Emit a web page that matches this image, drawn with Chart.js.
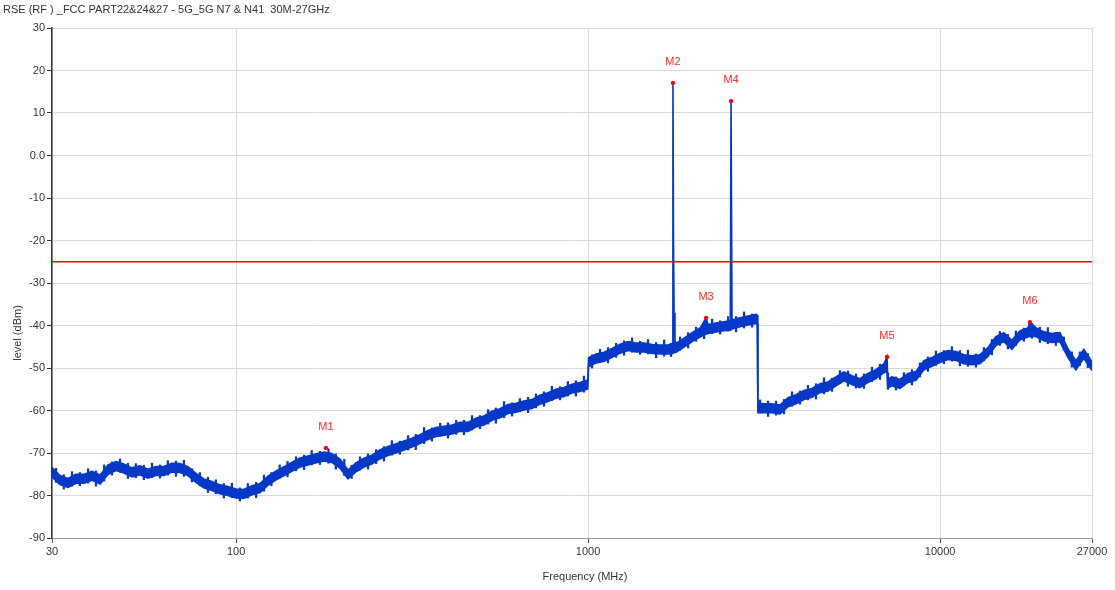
<!DOCTYPE html>
<html>
<head>
<meta charset="utf-8">
<script src="https://cdn.jsdelivr.net/npm/chart.js@4.4.1/dist/chart.umd.min.js"></script>
<style>
  html, body { margin: 0; padding: 0; background: #fff; }
  #wrap { position: relative; width: 1115px; height: 590px; }
  #title { position: absolute; left: 3px; top: 3px; font: 11px "Liberation Sans", Arial, sans-serif; color: #333; white-space: pre; }
</style>
</head>
<body>
<div id="wrap">
  <div id="title">RSE (RF ) _FCC PART22&amp;24&amp;27 - 5G_5G N7 &amp; N41  30M-27GHz</div>
  <canvas id="myChart" width="1115" height="590"></canvas>
</div>
<script>
// frequency points of the trace (MHz)
var freqs = [
  30, 31.6, 33.3, 35.1, 37.0, 39.0, 41.1, 43.3, 45.6, 48.0,
  50.6, 53.3, 56.2, 59.2, 62.4, 65.7, 69.3, 73.0, 76.9, 81.0,
  85.4, 90.0, 94.8, 100, 105, 111, 117, 123, 130, 137,
  144, 152, 160, 169, 178, 187, 197, 208, 219, 231,
  243, 256, 270, 284, 300, 316, 333, 351, 370, 390,
  411, 433, 456, 480, 506, 533, 562, 592, 624, 657,
  693, 730, 769, 810, 854, 900, 948, 998, 1003, 1054,
  1111, 1170, 1233, 1299, 1369, 1442, 1520, 1601, 1687, 1736,
  1742, 1748, 1755, 1765, 1778, 1873, 1974, 2080, 2163, 2191,
  2309, 2433, 2535, 2547, 2563, 2701, 2846, 2999, 3025, 3035,
  3160, 3329, 3508, 3697, 3895, 4104, 4325, 4557, 4801, 5059,
  5331, 5617, 5918, 6236, 6571, 6924, 7063, 7100, 7295, 7687,
  8100, 8535, 8993, 9476, 9985, 10521, 11086, 11681, 12308, 12969,
  13665, 14399, 15172, 15987, 16845, 17749, 17990, 18702, 19706, 20764,
  21879, 23054, 24292, 25596, 27000
];
// top edge of the dense trace core (dBm)
var traceMax = [
  -73.4, -75.3, -76.0, -75.0, -75.0, -74.3, -75.2, -72.8, -72.0, -72.6,
  -73.5, -73.0, -73.8, -73.2, -73.2, -72.4, -72.5, -73.2, -74.8, -76.1,
  -76.7, -77.5, -77.9, -78.5, -78.6, -77.7, -77.2, -75.5, -74.2, -73.2,
  -72.2, -71.2, -70.7, -70.2, -69.8, -70.1, -71.4, -74.0, -72.3, -71.2,
  -70.5, -69.3, -68.5, -67.9, -67.2, -66.5, -65.7, -64.7, -64.0, -63.7,
  -63.4, -62.8, -62.8, -61.8, -61.3, -60.2, -59.6, -58.6, -58.3, -57.8,
  -57.4, -56.4, -55.8, -55.0, -54.6, -53.8, -53.4, -52.8, -47.6, -46.7,
  -46.3, -45.4, -44.4, -43.8, -44.1, -44.1, -44.5, -44.6, -44.6, -44.2,
  17.1, -20.0, -37.0, -43.6, -44.2, -43.0, -41.7, -40.6, -38.2, -39.8,
  -39.4, -39.1, -38.9, 12.8, -38.7, -38.2, -37.8, -37.4, -37.6, -58.3,
  -58.4, -58.4, -58.7, -57.0, -56.3, -55.3, -54.8, -53.7, -53.3, -52.1,
  -50.9, -51.8, -52.5, -51.3, -50.4, -49.0, -47.4, -52.6, -52.1, -52.7,
  -51.3, -50.8, -48.3, -47.5, -46.6, -45.9, -46.1, -46.9, -47.1, -46.9,
  -45.2, -42.6, -41.7, -43.5, -41.3, -40.6, -39.2, -40.5, -41.5, -41.9,
  -41.7, -45.4, -48.3, -45.6, -48.5
];
// bottom edge of the dense trace core (dBm)
var traceMin = [
  -75.6, -77.4, -78.1, -77.1, -77.1, -76.4, -77.3, -75.0, -74.1, -74.7,
  -75.6, -75.1, -75.9, -75.3, -75.3, -74.5, -74.6, -75.3, -76.9, -78.2,
  -78.8, -79.6, -80.0, -80.6, -80.7, -79.8, -79.3, -77.6, -76.3, -75.3,
  -74.3, -73.3, -72.8, -72.3, -71.9, -72.2, -73.5, -76.1, -74.4, -73.3,
  -72.6, -71.4, -70.6, -70.0, -69.3, -68.6, -67.8, -66.8, -66.1, -65.8,
  -65.5, -64.9, -64.9, -63.9, -63.4, -62.3, -61.7, -60.7, -60.4, -59.9,
  -59.5, -58.5, -57.9, -57.1, -56.7, -55.9, -55.5, -54.9, -49.7, -48.8,
  -48.4, -47.5, -46.5, -45.9, -46.2, -46.2, -46.6, -46.7, -46.7, -46.6,
  -46.2, -46.2, -46.4, -46.4, -46.3, -45.1, -43.8, -42.7, -42.0, -41.9,
  -41.5, -41.2, -41.1, -41.0, -40.8, -40.3, -39.9, -39.5, -39.6, -60.5,
  -60.5, -60.5, -60.8, -59.1, -58.4, -57.4, -56.9, -55.8, -55.4, -54.2,
  -53.0, -53.9, -54.6, -53.4, -52.5, -51.1, -50.8, -54.7, -54.2, -54.8,
  -53.4, -52.9, -50.4, -49.6, -48.7, -48.0, -48.2, -49.0, -49.2, -49.0,
  -47.3, -44.7, -43.8, -45.6, -43.4, -42.7, -42.6, -42.6, -43.6, -44.0,
  -43.8, -47.5, -50.4, -47.7, -50.6
];

// noise spikes read between the trace points (MHz, dBm)
var hairFreqs = [
  30.8, 32.4, 34.2, 36.0, 38.0, 40.0, 42.2, 44.4, 46.8, 49.3,
  51.9, 54.7, 57.7, 60.8, 64.0, 67.5, 71.1, 74.9, 78.9, 83.2,
  87.6, 92.3, 97.3, 102.5, 108, 114, 120, 126, 133, 140,
  148, 156, 164, 173, 183, 192, 203, 213, 225, 237,
  250, 263, 277, 292, 308, 324, 342, 360, 380, 400,
  422, 444, 468, 493, 520, 547, 577, 608, 640, 675,
  711, 749, 789, 832, 876, 923, 973, 1026, 1081, 1139,
  1201, 1265, 1333, 1405, 1480, 1560, 1644, 1720, 1825, 1923,
  2026, 2135, 2250, 2371, 2498, 2632, 2773, 2922, 3079, 3244,
  3418, 3601, 3795, 3998, 4213, 4439, 4678, 4929, 5193, 5472,
  5766, 6075, 6401, 6745, 7107, 7489, 7891, 8314, 8761, 9231,
  9727, 10249, 10799, 11379, 11990, 12633, 13311, 14026, 14779, 15572,
  16408, 17289, 18217, 19195, 20225, 21311, 22455, 23661, 24931, 26269
];
var hairHi = [
  -73.6, -75.1, -74.4, -74.6, -73.7, -74.2, -72.8, -72.1, -71.4, -72.4,
  -72.5, -72.9, -72.4, -72.8, -71.8, -71.9, -71.7, -73.7, -74.6, -75.7,
  -76.3, -77.2, -77.1, -78.2, -77.2, -76.9, -75.2, -74.6, -72.8, -72.0,
  -70.9, -70.5, -69.4, -69.6, -69.0, -70.2, -71.5, -72.9, -70.9, -70.2,
  -69.2, -68.5, -67.1, -67.2, -65.9, -65.6, -64.0, -64.1, -63.0, -62.9,
  -62.3, -62.3, -61.2, -61.2, -59.8, -59.4, -57.9, -58.2, -57.2, -56.9,
  -56.1, -55.6, -54.3, -54.4, -53.2, -53.0, -51.9, -46.9, -45.6, -45.2,
  -44.2, -43.6, -42.9, -43.7, -43.3, -44.0, -43.4, -44.2, -42.7, -41.7,
  -40.4, -39.7, -38.5, -38.9, -37.9, -37.9, -36.8, -37.3, -57.5, -57.8,
  -57.8, -57.4, -55.6, -55.4, -54.1, -53.7, -52.3, -52.4, -50.6, -50.7,
  -51.4, -51.4, -49.8, -49.1, -51.2, -52.1, -51.1, -50.4, -48.8, -47.4,
  -46.0, -45.9, -45.0, -45.9, -45.8, -46.7, -45.2, -43.3, -41.4, -42.1,
  -41.3, -40.6, -39.6, -40.4, -40.5, -41.6, -42.7, -46.2, -46.2, -46.6
];
var hairLo = [
  -76.9, -78.5, -77.8, -77.7, -77.1, -77.8, -76.6, -75.2, -74.5, -76.0,
  -75.8, -76.3, -75.8, -75.9, -75.2, -75.5, -75.5, -76.8, -77.7, -79.3,
  -79.6, -80.6, -80.5, -81.3, -80.6, -80.5, -79.0, -77.7, -75.9, -75.6,
  -74.2, -73.9, -72.8, -72.7, -72.4, -73.8, -75.3, -76.0, -74.0, -73.8,
  -72.5, -71.9, -70.5, -70.3, -69.3, -69.2, -67.8, -67.2, -66.1, -66.5,
  -65.6, -65.7, -64.6, -64.3, -63.2, -63.0, -61.7, -61.3, -60.3, -60.5,
  -59.4, -59.0, -57.7, -57.5, -56.6, -56.6, -55.7, -50.0, -48.7, -48.8,
  -47.5, -47.0, -46.3, -46.8, -46.7, -47.6, -47.2, -47.3, -45.8, -45.3,
  -43.7, -43.1, -41.9, -42.0, -41.3, -41.5, -40.6, -40.4, -60.6, -61.4,
  -61.1, -60.8, -59.0, -58.5, -57.5, -57.3, -56.1, -55.5, -53.7, -54.3,
  -54.7, -54.8, -53.2, -52.7, -55.0, -55.2, -54.2, -54.0, -52.1, -50.8,
  -49.4, -49.0, -48.4, -49.5, -49.6, -49.8, -48.3, -46.9, -44.7, -45.5,
  -44.7, -43.7, -43.0, -44.0, -44.3, -44.7, -45.8, -49.8, -49.4, -49.9
];

var markerNames = ['M1', 'M2', 'M3', 'M4', 'M5', 'M6'];
var markerFreqs = [180, 1742, 2163, 2547, 7063, 17990];
var markerLevels = [-68.8, 17.1, -38.2, 12.8, -47.4, -39.2];

var limitFreqs = [30, 27000];
var limitLevels = [-25, -25];

var xTickVals = [30, 100, 1000, 10000, 27000];

var traceColor = '#0638c8';
var red = '#ff0000';

function pts(xs, ys) {
  return xs.map((x, i) => ({ x: x, y: ys[i] }));
}

var markerLabels = {
  id: 'markerLabels',
  afterDatasetsDraw(chart) {
    var meta = chart.getDatasetMeta(0);
    var c = chart.ctx;
    c.save();
    c.font = '11px "Liberation Sans", Arial, sans-serif';
    c.fillStyle = '#ff2a2a';
    c.textAlign = 'center';
    c.textBaseline = 'middle';
    meta.data.forEach((p, i) => {
      c.fillText(markerNames[i], p.x, p.y - 21);
    });
    c.restore();
  }
};

var axisTitles = {
  id: 'axisTitles',
  afterDraw(chart) {
    var c = chart.ctx;
    c.save();
    c.font = '11px "Liberation Sans", Arial, sans-serif';
    c.fillStyle = '#333';
    c.textAlign = 'center';
    c.textBaseline = 'middle';
    c.fillText('Frequency (MHz)', 585, 577);
    c.translate(18, 333);
    c.rotate(-Math.PI / 2);
    c.fillText('level (dBm)', 0, 0);
    c.restore();
  }
};

var ctx = document.getElementById('myChart').getContext('2d');
var myChart = new Chart(ctx, {
  type: 'line',
  data: {
    datasets: [
      {
        label: 'markers',
        data: pts(markerFreqs, markerLevels),
        showLine: false,
        pointRadius: 2.2,
        pointBackgroundColor: red,
        pointBorderColor: red,
        borderWidth: 0,
        order: 0
      },
      {
        label: 'limit',
        data: pts(limitFreqs, limitLevels),
        borderColor: red,
        borderWidth: 1.5,
        pointRadius: 0,
        fill: false,
        order: 1
      },
      {
        label: 'max',
        data: pts(freqs, traceMax),
        borderColor: traceColor,
        borderWidth: 1.6,
        pointRadius: 0,
        fill: false,
        order: 2
      },
      {
        label: 'min',
        data: pts(freqs, traceMin),
        borderColor: traceColor,
        backgroundColor: traceColor,
        borderWidth: 1.6,
        pointRadius: 0,
        fill: '-1',
        order: 3
      },
      {
        type: 'bar',
        label: 'noise',
        data: hairFreqs.map((f, i) => ({ x: f, y: [hairLo[i], hairHi[i]] })),
        backgroundColor: traceColor,
        borderWidth: 0,
        barThickness: 1.6,
        grouped: false,
        order: 4
      }
    ]
  },
  options: {
    responsive: false,
    animation: false,
    layout: { padding: { top: 28, right: 23, left: 0, bottom: 0 } },
    plugins: {
      legend: { display: false },
      tooltip: { enabled: false }
    },
    elements: { line: { tension: 0 } },
    scales: {
      x: {
        type: 'logarithmic',
        min: 30,
        max: 27000,
        offset: false,
        afterBuildTicks: (s) => { s.ticks = xTickVals.map(v => ({ value: v })); },
        afterFit: (s) => { s.height = 52; },
        ticks: {
          autoSkip: false,
          maxRotation: 0,
          color: '#333',
          font: { family: '"Liberation Sans", Arial, sans-serif', size: 11 },
          padding: 2,
          callback: (v) => String(v)
        },
        grid: { color: '#d9d9d9', tickColor: '#555', tickLength: 5, offset: false },
        border: { color: '#9a9a9a', width: 1 }
      },
      y: {
        min: -90,
        max: 30,
        afterFit: (s) => { s.width = 52; },
        ticks: {
          stepSize: 10,
          color: '#333',
          font: { family: '"Liberation Sans", Arial, sans-serif', size: 11 },
          padding: 2,
          callback: (v) => (v === 0 ? '0.0' : String(v))
        },
        grid: { color: '#d9d9d9', tickColor: '#333', tickLength: 5 },
        border: { color: '#333', width: 1.5 }
      }
    }
  },
  plugins: [markerLabels, axisTitles]
});
</script>
</body>
</html>
